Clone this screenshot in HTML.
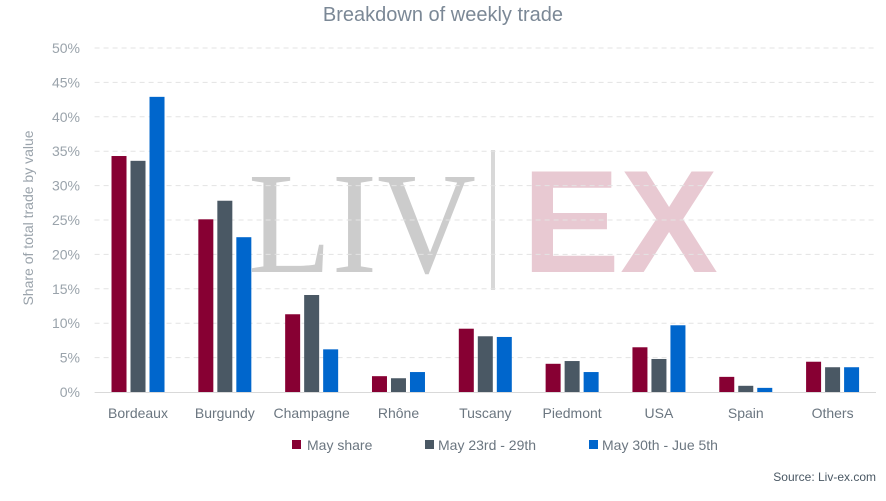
<!DOCTYPE html>
<html><head><meta charset="utf-8"><style>
body{margin:0;background:#fff;font-family:"Liberation Sans",sans-serif;}
svg text{font-family:"Liberation Sans",sans-serif;}
</style></head><body>
<svg width="886" height="496" xmlns="http://www.w3.org/2000/svg">
<text x="443" y="21" text-anchor="middle" font-size="20" fill="#7b8896">Breakdown of weekly trade</text>
<g>
<text x="248" y="272" font-family="Liberation Serif" font-size="145" fill="#cccccc" textLength="228" lengthAdjust="spacingAndGlyphs" style="font-family:'Liberation Serif',serif">LIV</text>
<rect x="491" y="150" width="4" height="140" fill="#d8d8d8"/>
<text x="522" y="272" font-size="146" font-weight="bold" fill="#e8c9d2" textLength="196" lengthAdjust="spacingAndGlyphs">EX</text>
</g>
<g id="grid"></g><g id="bars"></g><g id="axis"></g>
<text transform="translate(33,218) rotate(-90)" text-anchor="middle" font-size="14" fill="#9aa3ab">Share of total trade by value</text>
<g font-size="14" fill="#6b7680">
<g><rect x="292" y="440" width="9" height="9" fill="#870033"/><text x="307" y="450">May share</text></g>
<g><rect x="425" y="440" width="9" height="9" fill="#4a5864"/><text x="438" y="450">May 23rd - 29th</text></g>
<g><rect x="589" y="440" width="9" height="9" fill="#0066cc"/><text x="602" y="450">May 30th - Jue 5th</text></g>
</g>
<text x="876" y="481" text-anchor="end" font-size="12" fill="#4a5864">Source: Liv-ex.com</text>
</svg>
<script>
const categories=["Bordeaux","Burgundy","Champagne","Rhône","Tuscany","Piedmont","USA","Spain","Others"];
const mayShare=[34.3,25.1,11.3,2.3,9.2,4.1,6.5,2.2,4.4];
const may23=[33.6,27.8,14.1,2.0,8.1,4.5,4.8,0.9,3.6];
const may30=[42.9,22.5,6.2,2.9,8.0,2.9,9.7,0.6,3.6];
const yTicks=[0,5,10,15,20,25,30,35,40,45,50];
const seriesNames=["may-share","may-23-29","may30-jun5"];
const colors=["#870033","#4a5864","#0066cc"];
const NS="http://www.w3.org/2000/svg";
const left=94.6,right=876,y0=392,y50=48;
const bw=(right-left)/categories.length;
const y=v=>y0-(v/50)*(y0-y50);
const cx=i=>left+bw*(i+0.5);
const grid=document.getElementById('grid'),bars=document.getElementById('bars'),axis=document.getElementById('axis');
yTicks.forEach(t=>{
  if(t>0){const l=document.createElementNS(NS,'line');
  
  
  l.setAttribute('x1',left);l.setAttribute('x2',right);l.setAttribute('y1',y(t));l.setAttribute('y2',y(t));
  l.setAttribute('stroke','#e3e3e3');l.setAttribute('stroke-dasharray','5,4');grid.appendChild(l);}
  const tx=document.createElementNS(NS,'text');
  
  
  tx.setAttribute('x',80);tx.setAttribute('y',y(t)+5);tx.setAttribute('text-anchor','end');
  tx.setAttribute('font-size','14');tx.setAttribute('fill','#9aa3ab');tx.textContent=t+'%';axis.appendChild(tx);
});
const base=document.createElementNS(NS,'line');


base.setAttribute('x1',left);base.setAttribute('x2',right);base.setAttribute('y1',y0+0.5);base.setAttribute('y2',y0+0.5);
base.setAttribute('stroke','#d9d9d9');axis.appendChild(base);
[mayShare,may23,may30].forEach((s,k)=>{
  s.forEach((v,i)=>{
    const r=document.createElementNS(NS,'rect');
    
    
    const w=15,gap=4;
    r.setAttribute('x',cx(i)+(k-1)*(w+gap)-w/2);r.setAttribute('width',w);
    r.setAttribute('y',y(v));r.setAttribute('height',y0-y(v));r.setAttribute('fill',colors[k]);
    bars.appendChild(r);
  });
});
categories.forEach((c,i)=>{
  const tx=document.createElementNS(NS,'text');
  
  
  tx.setAttribute('x',cx(i));tx.setAttribute('y',418);tx.setAttribute('text-anchor','middle');
  tx.setAttribute('font-size','14');tx.setAttribute('fill','#6b7680');tx.textContent=c;axis.appendChild(tx);
});
</script>
</body></html>
